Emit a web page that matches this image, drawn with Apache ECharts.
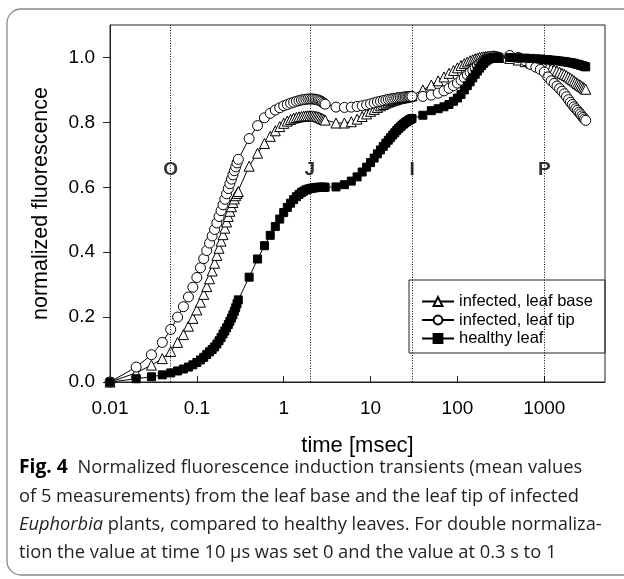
<!DOCTYPE html>
<html>
<head>
<meta charset="utf-8">
<script src="https://cdn.jsdelivr.net/npm/echarts@6/dist/echarts.min.js"></script>
<style>html,body{margin:0;padding:0;background:#fff;}#c{width:624px;height:579px;}</style>
</head>
<body>
<div id="c"></div>
<script>
// time points [msec]
const times = [
  0.01,0.02,0.03,0.04,0.05,0.06,0.07,0.08,0.09,0.10,0.11,0.12,0.13,0.14,0.15,0.16,0.17,0.18,0.19,0.20,0.21,0.22,0.23,0.24,0.25,0.26,0.27,0.28,0.29,0.30,
  0.4,0.5,0.6,0.7,0.8,0.9,1.0,1.1,1.2,1.3,1.4,1.5,1.6,1.7,1.8,1.9,2.0,2.1,2.2,2.3,2.4,2.5,2.6,2.7,2.8,2.9,3.0,
  4,5,6,7,8,9,10,11,12,13,14,15,16,17,18,19,20,21,22,23,24,25,26,27,28,29,30,
  40,50,60,70,80,90,100,110,120,130,140,150,160,170,180,190,200,210,220,230,240,250,260,270,280,290,300,
  400,500,600,700,800,900,1000,1100,1200,1300,1400,1500,1600,1700,1800,1900,2000,2100,2200,2300,2400,2500,2600,2700,2800,2900,3000
];
const leafBase = [
  0,0.028,0.052,0.072,0.094,0.122,0.146,0.172,0.196,0.222,0.246,0.27,0.294,0.318,0.342,0.366,0.39,0.412,0.434,0.454,0.474,0.493,0.51,0.526,0.54,0.553,0.564,0.574,0.581,0.587,
  0.665,0.705,0.735,0.757,0.774,0.787,0.797,0.804,0.809,0.813,0.815,0.817,0.818,0.819,0.82,0.82,0.82,0.82,0.82,0.819,0.818,0.817,0.815,0.813,0.811,0.809,0.807,
  0.798,0.798,0.802,0.81,0.818,0.826,0.834,0.84,0.846,0.851,0.855,0.859,0.862,0.865,0.867,0.869,0.871,0.873,0.874,0.875,0.876,0.877,0.878,0.879,0.88,0.881,0.882,
  0.9,0.915,0.928,0.94,0.951,0.96,0.968,0.975,0.981,0.986,0.99,0.993,0.996,0.998,1.0,1.001,1.002,1.003,1.003,1.003,1.003,1.002,1.002,1.001,1.001,1.0,1.0,
  0.997,0.992,0.987,0.983,0.979,0.976,0.972,0.969,0.965,0.962,0.958,0.955,0.951,0.948,0.944,0.94,0.936,0.932,0.928,0.924,0.92,0.917,0.914,0.911,0.908,0.905,0.902
];
const leafTip = [
  0,0.046,0.084,0.122,0.162,0.2,0.232,0.262,0.292,0.322,0.352,0.38,0.405,0.428,0.45,0.47,0.49,0.51,0.528,0.546,0.563,0.58,0.596,0.611,0.625,0.638,0.651,0.663,0.675,0.686,
  0.75,0.79,0.814,0.828,0.838,0.845,0.851,0.855,0.859,0.862,0.865,0.867,0.869,0.87,0.871,0.872,0.872,0.872,0.872,0.871,0.87,0.869,0.867,0.865,0.862,0.859,0.856,
  0.847,0.846,0.847,0.849,0.851,0.854,0.857,0.86,0.863,0.865,0.867,0.869,0.871,0.872,0.873,0.874,0.875,0.876,0.877,0.877,0.878,0.878,0.879,0.879,0.879,0.88,0.88,
  0.88,0.884,0.89,0.897,0.905,0.913,0.921,0.93,0.938,0.946,0.954,0.961,0.968,0.974,0.98,0.985,0.99,0.994,0.997,1.0,1.002,1.003,1.004,1.003,1.002,1.001,1.0,
  1.006,1.0,0.99,0.978,0.97,0.963,0.955,0.94,0.928,0.92,0.912,0.904,0.896,0.888,0.879,0.87,0.862,0.855,0.848,0.842,0.837,0.831,0.826,0.82,0.815,0.81,0.806
];
const healthy = [
  0,0.01,0.016,0.022,0.028,0.034,0.04,0.046,0.053,0.06,0.068,0.076,0.085,0.093,0.1,0.108,0.117,0.127,0.137,0.148,0.157,0.167,0.177,0.187,0.197,0.207,0.218,0.229,0.241,0.253,
  0.323,0.379,0.42,0.452,0.479,0.502,0.522,0.538,0.551,0.562,0.571,0.578,0.584,0.588,0.592,0.594,0.596,0.597,0.598,0.599,0.599,0.6,0.6,0.6,0.6,0.6,0.6,
  0.601,0.608,0.619,0.632,0.647,0.662,0.676,0.69,0.703,0.715,0.726,0.736,0.745,0.753,0.761,0.768,0.775,0.781,0.786,0.791,0.795,0.799,0.802,0.805,0.808,0.81,0.812,
  0.822,0.836,0.842,0.848,0.855,0.865,0.875,0.886,0.9,0.913,0.925,0.937,0.948,0.958,0.967,0.975,0.982,0.988,0.992,0.995,0.997,0.998,0.999,1.0,1.0,1.0,1.0,
  1.0,0.999,0.998,0.997,0.996,0.995,0.994,0.993,0.992,0.991,0.99,0.989,0.988,0.987,0.986,0.985,0.984,0.983,0.982,0.98,0.979,0.978,0.976,0.975,0.974,0.972,0.971
];
const seriesNames = ['infected, leaf base', 'infected, leaf tip', 'healthy leaf'];
const phaseTimes = [0.05, 2, 30, 1000];
const phaseLabels = ['O', 'J', 'I', 'P'];
const phaseLabelY = 0.655;
const captionLines = [
  '{b|Fig. 4}  Normalized fluorescence induction transients (mean values',
  'of 5 measurements) from the leaf base and the leaf tip of infected',
  '{i|Euphorbia} plants, compared to healthy leaves. For double normaliza-',
  'tion the value at time 10 \u00b5s was set 0 and the value at 0.3 s to 1'
];

const AF = 'Liberation Sans, Arial, sans-serif';
const CF = 'Open Sans, Noto Sans, sans-serif';
const pairs = arr => times.map((t, i) => [t, arr[i]]);

const chart = echarts.init(document.getElementById('c'), null, {renderer: 'canvas'});
const baseSeries = (name, data, symbol, size, fill) => ({
  name, type: 'line', data: pairs(data), symbol, symbolSize: size, showAllSymbol: true,
  lineStyle: {color: '#000', width: 1},
  itemStyle: {color: fill, borderColor: '#000', borderWidth: 1},
  z: 3
});

const capFontSize = 18.3;
chart.setOption({
  animation: false,
  grid: {left: 110, right: 19, top: 25, bottom: 197, show: true, borderColor: '#222', borderWidth: 1},
  xAxis: {
    type: 'log', logBase: 10, min: 0.01, max: 5000,
    name: 'time [msec]', nameLocation: 'middle', nameGap: 53,
    nameTextStyle: {fontFamily: AF, fontSize: 22, color: '#000'},
    axisLine: {lineStyle: {color: '#222'}},
    axisTick: {inside: true, length: 6, lineStyle: {color: '#222'}},
    splitLine: {show: false},
    minorTick: {show: false},
    axisLabel: {
      fontFamily: AF, fontSize: 19, color: '#000', margin: 17, showMaxLabel: false,
      formatter: v => String(+Number(v).toPrecision(6))
    }
  },
  yAxis: {
    type: 'value', min: 0, max: 1.1, interval: 0.2,
    name: 'normalized fluorescence', nameLocation: 'middle', nameGap: 58,
    nameTextStyle: {fontFamily: AF, fontSize: 21.5, color: '#000'},
    axisLine: {show: true, lineStyle: {color: '#222'}},
    axisTick: {show: true, length: 7, lineStyle: {color: '#222'}},
    splitLine: {show: false},
    axisLabel: {
      fontFamily: AF, fontSize: 19, color: '#000', margin: 15, showMaxLabel: false,
      formatter: v => Number(v).toFixed(1)
    }
  },
  legend: {
    data: seriesNames, orient: 'vertical', left: 421, top: 293,
    itemWidth: 32, itemHeight: 11, itemGap: 1.5, padding: 0,
    textStyle: {fontFamily: AF, fontSize: 16.5, color: '#000'}
  },
  series: [
    baseSeries(seriesNames[0], leafBase, 'triangle', 10, '#fff'),
    baseSeries(seriesNames[1], leafTip, 'circle', 10, '#fff'),
    baseSeries(seriesNames[2], healthy, 'rect', 8, '#000'),
    {
      name: 'phases', type: 'scatter', symbolSize: 0, silent: true, z: 2,
      data: phaseTimes.map((t, i) => ({value: [t, phaseLabelY], name: phaseLabels[i]})),
      label: {show: true, position: 'inside', formatter: p => p.name,
        fontFamily: AF, fontSize: 19, fontWeight: 'bold', color: '#000'},
      markLine: {
        symbol: 'none', silent: true, label: {show: false},
        lineStyle: {type: [1, 1.6], color: '#000', width: 1},
        data: phaseTimes.map(t => ({xAxis: t}))
      }
    }
  ],
  graphic: [
    {type: 'rect', shape: {x: 7, y: 9, width: 660, height: 566, r: 14},
     style: {fill: 'none', stroke: '#8a8a8a', lineWidth: 1.3}, silent: true},
    {type: 'rect', shape: {x: 409, y: 280, width: 196, height: 73},
     style: {fill: 'none', stroke: '#222', lineWidth: 1}, silent: true, z: 10}
  ].concat(captionLines.map((txt, i) => ({
    type: 'text', x: 19, y: 468 + i * 28.3, silent: true,
    style: {
      text: txt, fill: '#231f20', font: capFontSize + 'px ' + CF, verticalAlign: 'middle',
      rich: {
        b: {fontWeight: 'bold', fontSize: capFontSize + 1, fontFamily: CF, fill: '#000'},
        i: {fontStyle: 'italic', fontSize: capFontSize, fontFamily: CF, fill: '#231f20'}
      }
    }
  })))
});
</script>
</body>
</html>
